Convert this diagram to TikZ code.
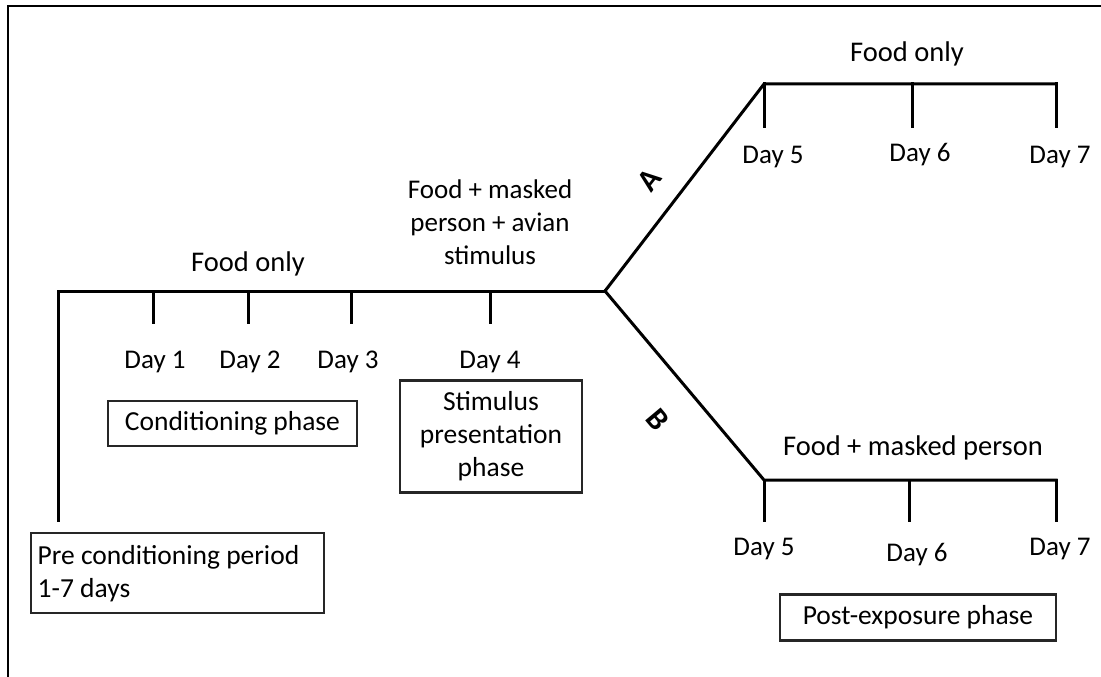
\documentclass[tikz,border=0pt]{standalone}
\usepackage{fontspec}
\setmainfont{Carlito}
\begin{document}
\begin{tikzpicture}[x=1pt,y=-1pt,
  tl/.style={line width=3pt,black,line cap=rect},
  lbl/.style={inner sep=0pt,font=\fontsize{27}{33}\selectfont,align=center},
  big/.style={inner sep=0pt,font=\fontsize{28.5}{33}\selectfont},
  phase/.style={draw=black!85,line width=2.4pt,inner sep=0pt,font=\fontsize{27.5}{33}\selectfont,align=center},
  br/.style={inner sep=0pt,font=\fontsize{31}{34}\selectfont\bfseries}]
\useasboundingbox (0,0) rectangle (1101,677);
% frame (top and left visible)
\draw[line width=2.2pt] (8,677) -- (8,6) -- (1101,6);
% coordinates
\coordinate (start) at (58,291);
\coordinate (startb) at (58,520);
\coordinate (j) at (605,291);
\coordinate (ua) at (764,84);
\coordinate (ue) at (1056,84);
\coordinate (la) at (764,480);
\coordinate (le) at (1056,480);
\foreach \n/\x in {1/153,2/248,3/351,4/490}{
  \coordinate (t\n) at (\x,291);
  \coordinate (b\n) at (\x,322);
}
\coordinate (ut6) at (912,84);
\coordinate (ub5) at (764,126);
\coordinate (ub6) at (912,126);
\coordinate (ub7) at (1056,126);
\coordinate (lt6) at (909,480);
\coordinate (lb5) at (764,520);
\coordinate (lb6) at (909,520);
\coordinate (lb7) at (1056,520);
% timeline
\draw[tl,line join=miter] (startb) -- (start) -- (j);
\foreach \n in {1,2,3,4}{\draw[tl] (t\n) -- (b\n);}
\draw[tl,line join=miter] (j) -- (ua) -- (ue);
\draw[tl,line join=miter] (j) -- (la) -- (le);
\draw[tl] (ua) -- (ub5);
\draw[tl] (ut6) -- (ub6);
\draw[tl] (ue) -- (ub7);
\draw[tl] (la) -- (lb5);
\draw[tl] (lt6) -- (lb6);
\draw[tl] (le) -- (lb7);
% labels
\node[big] (fo1) at (248,264) {Food only};
\node[lbl] (fm) at (490,222) {Food + masked\\person + avian\\stimulus};
\node[lbl] (d1) at (155,362) {Day 1};
\node[lbl] (d2) at (250,362) {Day 2};
\node[lbl] (d3) at (348,362) {Day 3};
\node[lbl] (d4) at (490,362) {Day 4};
\node[big] (fo2) at (907,54) {Food only};
\node[lbl] (u5) at (773,157) {Day 5};
\node[lbl] (u6) at (920,155) {Day 6};
\node[lbl] (u7) at (1060,157) {Day 7};
\node[big] (fmp) at (913,448) {Food + masked person};
\node[lbl] (l5) at (764,549) {Day 5};
\node[lbl] (l6) at (917,555) {Day 6};
\node[lbl] (l7) at (1060,549) {Day 7};
\node[br,rotate=52] (A) at (649,180) {A};
\node[br,rotate=-50] (B) at (658,420) {B};
% phase boxes
\node[phase,minimum width=293pt,minimum height=80pt,align=flush left,anchor=north west,text width=280pt] (pre) at (30,532) {Pre conditioning period\\1-7 days};
\node[phase,minimum width=249pt,minimum height=45pt] (cond) at (232.5,423.5) {\raisebox{-3pt}{Conditioning phase}};
\node[phase,minimum width=182pt,minimum height=112pt] (stim) at (491,436.5) {Stimulus\\presentation\\phase};
\node[phase,minimum width=276pt,minimum height=46pt] (post) at (918,617.5) {\raisebox{-2pt}{Post-exposure phase}};
\end{tikzpicture}
\end{document}
